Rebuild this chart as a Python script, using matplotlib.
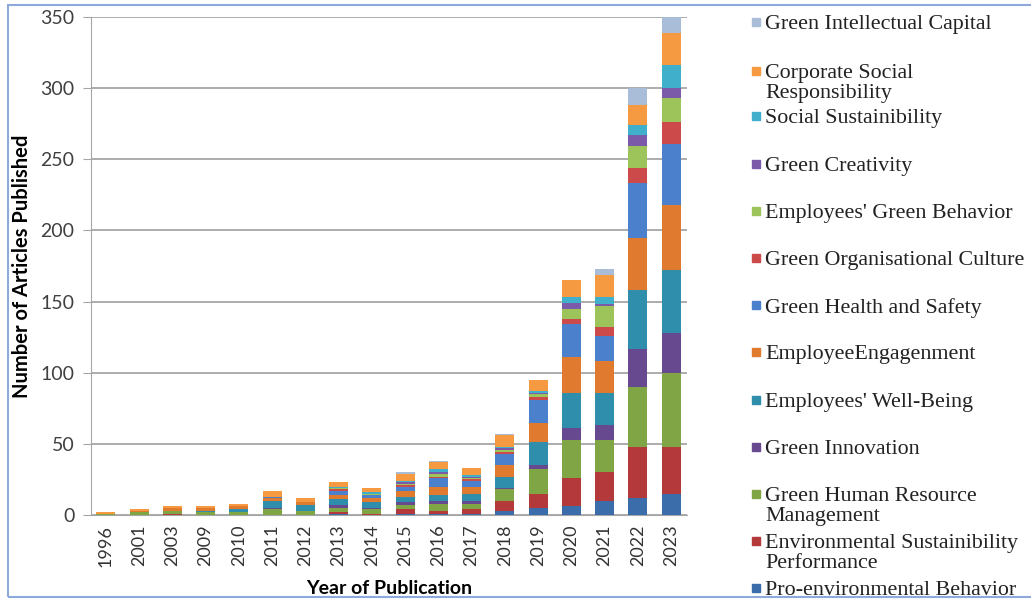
import numpy as np
import matplotlib.pyplot as plt
from matplotlib.patches import Rectangle

# years and topics (bottom of stack first)
years = ['1996', '2001', '2003', '2009', '2010', '2011', '2012', '2013', '2014',
         '2015', '2016', '2017', '2018', '2019', '2020', '2021', '2022', '2023']

topics = ['Pro-environmental Behavior', 'Environmental Sustainibility\nPerformance',
          'Green Human Resource\nManagement', 'Green Innovation', "Employees' Well-Being",
          'EmployeeEngagenment', 'Green Health and Safety', 'Green Organisational Culture',
          "Employees' Green Behavior", 'Green Creativity', 'Social Sustainibility',
          'Corporate Social\nResponsibility', 'Green Intellectual Capital']

peb  = [0, 0, 0, 0, 0, 0, 0, 1, 0, 1, 1, 1, 3, 5, 6, 10, 12, 15]
esp  = [0, 0, 1, 0, 0, 0, 0, 1, 1, 3, 2, 3, 7, 10, 20, 20, 36, 33]
ghrm = [1, 2, 2, 2, 2, 4, 3, 3, 3, 3, 5, 4, 8, 17, 27, 23, 42, 52]
gi   = [0, 0, 0, 0, 0, 1, 0, 2, 1, 2, 2, 2, 1, 3, 8, 10, 27, 28]
ewb  = [0, 0, 0, 1, 2, 5, 4, 4, 4, 4, 4, 5, 8, 16, 25, 23, 41, 44]
ee   = [0, 1, 2, 2, 2, 2, 2, 3, 3, 4, 6, 5, 8, 14, 25, 22, 37, 46]
ghs  = [0, 0, 0, 0, 0, 1, 0, 3, 2, 3, 6, 4, 8, 16, 23, 18, 38, 43]
goc  = [0, 0, 0, 0, 0, 0, 0, 1, 0, 1, 1, 1, 1, 2, 4, 6, 11, 15]
egb  = [0, 0, 0, 0, 0, 0, 0, 1, 1, 1, 2, 1, 2, 2, 7, 15, 15, 17]
gc   = [0, 0, 0, 0, 0, 0, 0, 0, 0, 1, 1, 1, 1, 1, 4, 1, 8, 7]
ss   = [0, 0, 0, 0, 0, 0, 0, 1, 1, 1, 2, 1, 1, 1, 4, 5, 7, 16]
csr  = [1, 1, 1, 1, 2, 4, 3, 3, 3, 5, 5, 5, 8, 8, 12, 16, 14, 23]
gic  = [0, 0, 0, 0, 0, 0, 0, 0, 0, 1, 1, 0, 1, 0, 0, 4, 12, 11]

series = [peb, esp, ghrm, gi, ewb, ee, ghs, goc, egb, gc, ss, csr, gic]
colors = ['#3B6DAA', '#B3393A', '#7FA544', '#67498F', '#2E8EAB', '#E07A2E',
          '#4A80CC', '#CC4A4A', '#9CC45A', '#7C5AAA', '#40AFCB', '#F59A40', '#A9BDD8']

W, H = 1031, 601
fig = plt.figure(figsize=(W / 100, H / 100), dpi=100)
ax = fig.add_axes([91 / W, 1 - 515 / H, (687 - 91) / W, (515 - 17) / H])

x = np.arange(len(years))
bottom = np.zeros(len(years))
for vals, col in zip(series, colors):
    ax.bar(x, vals, 0.57, bottom=bottom, color=col, linewidth=0, zorder=3)
    bottom += np.array(vals)

ax.set_xlim(-0.45, 17.48)
ax.set_ylim(0, 350)
ax.set_yticks(range(0, 351, 50))
ax.yaxis.grid(True, color='#A6A6A6', linewidth=1.3, zorder=0)
for s in ['top', 'right']:
    ax.spines[s].set_visible(False)
ax.spines['left'].set_color('#A6A6A6')
ax.spines['bottom'].set_color('#A6A6A6')
ax.tick_params(axis='y', length=6, color='#A6A6A6', labelsize=14, labelcolor='#404040', pad=6)
ax.tick_params(axis='x', length=0, labelsize=13, labelcolor='#333333', pad=7)
ax.set_xticks(x)
ax.set_xticklabels(years, rotation=90)
for lab in ax.get_yticklabels() + ax.get_xticklabels():
    lab.set_family('Lato')

ax.set_ylabel('Number of Articles Published', fontsize=14.5, fontweight='bold',
              family='Lato', labelpad=6)
ax.set_xlabel('Year of Publication', fontsize=14, fontweight='bold', family='Lato',
              labelpad=10)

# manual legend, top entry first
for i in range(len(topics)):
    k = len(topics) - 1 - i
    yc = 22 + i * 47.2
    if '\n' in topics[k] and i == 1:
        yc += 2
    fig.patches.append(Rectangle((752 / W, 1 - (yc + 4) / H), 8 / W, 8 / H,
                                 transform=fig.transFigure, color=colors[k]))
    fig.text(765 / W, 1 - (yc - 7) / H, topics[k], family='Liberation Serif',
             fontsize=15.8, color='#222222', va='top', ha='left', linespacing=1.05)

# blue frame
fig.patches.append(Rectangle((8 / W, 4 / H), 1.1, 1 - 9 / H, transform=fig.transFigure,
                             fill=False, edgecolor='#8EAADB', linewidth=1.5))

fig.savefig('out.png', dpi=100)
